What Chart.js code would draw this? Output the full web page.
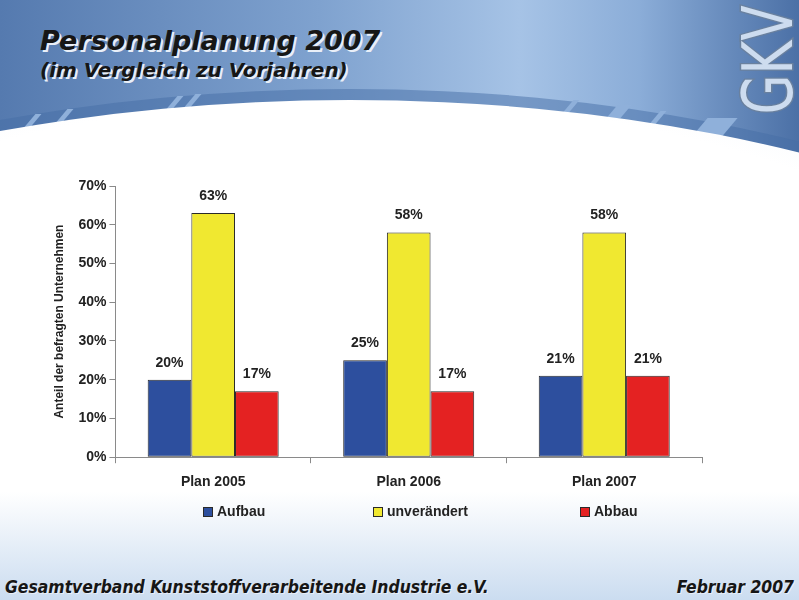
<!DOCTYPE html>
<html>
<head>
<meta charset="utf-8">
<script src="https://cdn.jsdelivr.net/npm/chart.js@4"></script>
<style>
  html, body { margin: 0; padding: 0; }
  body {
    width: 799px; height: 600px; overflow: hidden; position: relative;
    background: linear-gradient(to right, #557aaf 0%, #7fa2cf 40%, #a6c3e6 65%, #8badd8 80%, #4b70a6 100%);
    font-family: "Liberation Sans", Arial, sans-serif;
  }
  .oval {
    position: absolute; left: -608px; width: 1916px; height: 900px; border-radius: 50%;
  }
  #ring { top: 89px; background: rgba(70, 110, 165, 0.5); }
  #swoosh {
    top: 100px;
    background: radial-gradient(ellipse at 50% 45%, #ffffff 0%, #ffffff 58%, #f2f6fb 70%, #d6e4f3 84%, #bcd2ea 100%);
  }
  #band {
    position: absolute; left: 0; top: 0; width: 799px; height: 600px;
    background: linear-gradient(to bottom, rgba(255,255,255,0) 82%, rgba(160,192,228,0.55) 100%);
  }
  .gap { position: absolute; width: 6px; height: 13px; background: #8fb0da; transform: skewX(-40deg); }
  #title, #subtitle, .foot {
    position: absolute; font-family: "DejaVu Sans", Verdana, sans-serif;
    font-weight: bold; font-style: italic; color: #161616;
    text-shadow: 2px 2px 0 #e9eff8;
  }
  #title { left: 40px; top: 25px; font-size: 27px; }
  #subtitle { left: 40px; top: 58px; font-size: 20px; }
  .foot { top: 577px; font-size: 17.4px; font-family: "DejaVu Sans Condensed", "DejaVu Sans", sans-serif; text-shadow: 1px 1px 0 #e9eff8; }
  #logo {
    position: absolute; left: 768px; top: 60px; transform: translate(-50%, -50%) rotate(-90deg) scaleX(0.82);
    font-family: "DejaVu Sans Condensed", "DejaVu Sans", sans-serif; font-size: 70px;
    color: #cddcef; -webkit-text-stroke: 3px #6a819f; paint-order: stroke fill; line-height: 1;
  }
  #chart { position: absolute; left: 30px; top: 165px; }
  #legend { position: absolute; top: 503px; left: 0; width: 799px; height: 20px; }
  #legend span {
    position: absolute; font: bold 14px "Liberation Sans", Arial, sans-serif; color: #222;
    white-space: nowrap; line-height: 16px;
  }
  #legend i {
    display: inline-block; width: 8px; height: 8px; border: 1px solid #2a2a2a;
    margin-right: 4px; vertical-align: -1px;
  }
</style>
</head>
<body>
<div class="oval" id="ring"></div>
<div class="gap" style="left:30px; top:114px"></div>
<div class="gap" style="left:62px; top:109px"></div>
<div class="gap" style="left:172px; top:96px"></div>
<div class="gap" style="left:190px; top:94px"></div>
<div class="gap" style="left:568px; top:100px"></div>
<div class="gap" style="left:612px; top:105px; width:14px"></div>
<div class="gap" style="left:655px; top:111px"></div>
<div class="gap" style="left:700px; top:118px; width:30px; height:18px"></div>
<div class="oval" id="swoosh"></div>
<div id="band"></div>
<div id="logo">GKV</div>
<div id="title">Personalplanung 2007</div>
<div id="subtitle">(im Vergleich zu Vorjahren)</div>
<div class="foot" style="left:5px">Gesamtverband Kunststoffverarbeitende Industrie e.V.</div>
<div class="foot" style="right:5px">Februar 2007</div>
<canvas id="chart" width="700" height="341"></canvas>
<div id="legend"></div>
<script>
// Kategorien und Werte (Prozent)
const categories = ["Plan 2005", "Plan 2006", "Plan 2007"];
const aufbau = [20, 25, 21];
const unveraendert = [63, 58, 58];
const abbau = [17, 17, 21];
const yTicks = [0, 10, 20, 30, 40, 50, 60, 70];
const seriesNames = ["Aufbau", "unverändert", "Abbau"];
const seriesColors = ["#2d4f9e", "#f0e830", "#e42222"];
const legendX = [203, 373, 580];

// Werte über den Balken anzeigen
const valueLabels = {
  id: "valueLabels",
  afterDatasetsDraw(chart) {
    const ctx = chart.ctx;
    ctx.save();
    ctx.font = "bold 14px 'Liberation Sans', Arial, sans-serif";
    ctx.fillStyle = "#222";
    ctx.textAlign = "center";
    ctx.textBaseline = "bottom";
    chart.data.datasets.forEach((ds, i) => {
      chart.getDatasetMeta(i).data.forEach((bar, j) => {
        ctx.fillText(ds.data[j] + "%", bar.x, bar.y - 10);
      });
    });
    ctx.restore();
  },
};

const ctx = document.getElementById("chart").getContext("2d");

const chart = new Chart(ctx, {
  type: "bar",
  data: {
    labels: categories,
    datasets: [aufbau, unveraendert, abbau].map((values, i) => ({
      label: seriesNames[i],
      data: values,
      backgroundColor: seriesColors[i],
      borderColor: "#2a2a2a",
      borderWidth: 1,
      borderSkipped: false,
      barPercentage: 1,
      categoryPercentage: 0.67,
    })),
  },
  options: {
    responsive: false,
    animation: false,
    layout: { padding: { top: 21, left: 18, right: 28, bottom: 4 } },
    plugins: {
      legend: { display: false },
      tooltip: { enabled: false },
    },
    scales: {
      x: {
        grid: { drawOnChartArea: false, color: "#8a8a8a", tickLength: 6, offset: true },
        border: { color: "#8a8a8a" },
        ticks: { color: "#222", padding: 11, font: { size: 14, weight: "bold", family: "'Liberation Sans', Arial, sans-serif" } },
      },
      y: {
        min: 0, max: 70,
        afterBuildTicks(axis) { axis.ticks = yTicks.map((v) => ({ value: v })); },
        grid: { drawOnChartArea: false, color: "#8a8a8a", tickLength: 6 },
        border: { color: "#8a8a8a" },
        ticks: {
          color: "#222", padding: 3,
          font: { size: 14, weight: "bold", family: "'Liberation Sans', Arial, sans-serif" },
          callback: (v) => v + "%",
        },
        title: {
          display: true, text: "Anteil der befragten Unternehmen", color: "#222",
          padding: { bottom: 9 },
          font: { size: 12, weight: "bold", family: "'Liberation Sans', Arial, sans-serif" },
        },
      },
    },
  },
  plugins: [valueLabels],
});

// Legende als HTML, weit auseinander wie im Original
const legend = document.getElementById("legend");
chart.data.datasets.forEach((ds, i) => {
  const item = document.createElement("span");
  item.style.left = legendX[i] + "px";
  item.innerHTML = `<i style="background:${ds.backgroundColor}"></i>${ds.label}`;
  legend.appendChild(item);
});
</script>
</body>
</html>
